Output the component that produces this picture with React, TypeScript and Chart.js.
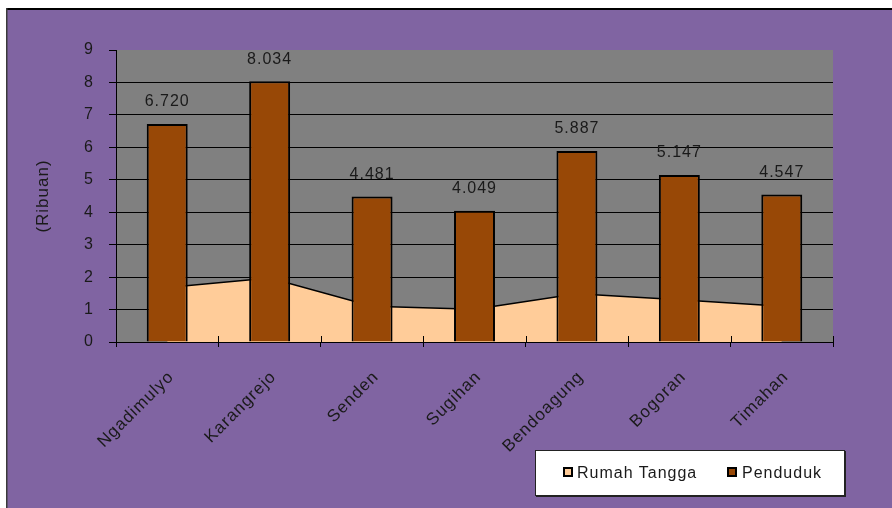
import React, { useEffect, useRef } from "react";
import { Chart, registerables } from "chart.js";

Chart.register(...registerables);

const categories = ["Ngadimulyo", "Karangrejo", "Senden", "Sugihan", "Bendoagung", "Bogoran", "Timahan"];
const penduduk = [6.72, 8.034, 4.481, 4.049, 5.887, 5.147, 4.547];
const pendudukLabels = ["6.720", "8.034", "4.481", "4.049", "5.887", "5.147", "4.547"];
const rumahTangga = [1.68, 1.97, 1.1, 1.01, 1.49, 1.3, 1.1];
const seriesNames = ["Rumah Tangga", "Penduduk"];
const yAxisTitle = "(Ribuan)";
const yMin = 0;
const yMax = 9;

const FONT = "'Liberation Sans', Arial, sans-serif";
const PURPLE = "#8064A2";
const PLOT_BG = "#808080";
const BAR = "#984806";
const AREA = "#FFCC99";
const TEXT = "#1a1a1a";

const setSpacing = (ctx: any) => {
  try {
    ctx.letterSpacing = "1px";
  } catch (e) {}
};

const backgroundPlugin = {
  id: "bgPlugin",
  beforeLayout(chart: any) {
    setSpacing(chart.ctx);
  },
  beforeDraw(chart: any) {
    const { ctx, width, height, chartArea } = chart;
    setSpacing(ctx);
    ctx.save();
    ctx.fillStyle = "#ffffff";
    ctx.fillRect(0, 0, width, height);
    ctx.fillStyle = PURPLE;
    ctx.fillRect(7, 10, width - 7, height - 10);
    ctx.fillStyle = "#000000";
    ctx.fillRect(6, 8, width - 6, 2);
    ctx.fillStyle = "#3a3a3a";
    ctx.fillRect(6, 8, 1.5, height - 8);
    ctx.fillStyle = PLOT_BG;
    ctx.fillRect(chartArea.left, chartArea.top, chartArea.right - chartArea.left, chartArea.bottom - chartArea.top);
    ctx.restore();
  },
};

const overlayPlugin = {
  id: "overlayPlugin",
  afterDatasetsDraw(chart: any) {
    const { ctx, chartArea } = chart;
    const xScale = chart.scales.x;
    ctx.save();
    ctx.strokeStyle = "#000";
    ctx.lineWidth = 1;
    const n = categories.length;
    const half = (xScale.getPixelForValue(1) - xScale.getPixelForValue(0)) / 2;
    for (let i = 0; i <= n; i++) {
      const x = Math.round(xScale.getPixelForValue(i) - half) + 0.5;
      ctx.beginPath();
      ctx.moveTo(x, chartArea.bottom - 6);
      ctx.lineTo(x, chartArea.bottom);
      ctx.stroke();
    }
    const meta = chart.getDatasetMeta(1);
    ctx.fillStyle = TEXT;
    ctx.font = `16px ${FONT}`;
    ctx.textAlign = "center";
    ctx.textBaseline = "bottom";
    setSpacing(ctx);
    meta.data.forEach((el: any, i: number) => {
      ctx.fillText(pendudukLabels[i], el.x, el.y - 14);
    });
    ctx.restore();
  },
};

export default function App() {
  const ref = useRef<HTMLCanvasElement>(null);
  useEffect(() => {
    if (!ref.current) return;
    const chart = new Chart(ref.current, {
      type: "bar",
      data: {
        labels: categories,
        datasets: [
          {
            type: "line",
            label: seriesNames[0],
            data: rumahTangga,
            fill: "origin",
            backgroundColor: AREA,
            borderColor: "#000",
            borderWidth: 1.5,
            pointRadius: 0,
            tension: 0,
            order: 2,
          } as any,
          {
            type: "bar",
            label: seriesNames[1],
            data: penduduk,
            backgroundColor: BAR,
            borderColor: "#000",
            borderWidth: 2,
            barPercentage: 0.4,
            categoryPercentage: 1,
            order: 1,
          },
        ],
      },
      options: {
        responsive: false,
        animation: false,
        devicePixelRatio: 1,
        layout: { padding: { left: 0, top: 50, right: 59, bottom: 0 } },
        plugins: {
          legend: { display: false },
          tooltip: { enabled: false },
        },
        scales: {
          x: {
            offset: true,
            grid: {
              offset: true,
              drawOnChartArea: false,
              drawTicks: true,
              tickLength: 5,
              color: "#000",
              tickColor: "#000",
            },
            border: { color: "#000", width: 1 },
            ticks: {
              maxRotation: 45,
              minRotation: 45,
              padding: 20,
              labelOffset: 4,
              color: TEXT,
              font: { family: FONT, size: 17 },
            },
            afterFit(scale: any) {
              scale.height = 166;
            },
          },
          y: {
            min: yMin,
            max: yMax,
            ticks: {
              stepSize: 1,
              padding: 15,
              color: TEXT,
              font: { family: FONT, size: 16 },
            },
            grid: {
              color: (c: any) => (c.tick && c.tick.value === yMax ? "rgba(0,0,0,0)" : "#000"),
              tickColor: "#000",
              tickLength: 7,
              lineWidth: 1,
            },
            border: { color: "#000", width: 1 },
            title: {
              display: true,
              text: yAxisTitle,
              color: TEXT,
              font: { family: FONT, size: 17 },
              padding: { top: 33, bottom: 0 },
            },
            afterFit(scale: any) {
              scale.width = 116;
            },
          },
        },
      },
      plugins: [backgroundPlugin, overlayPlugin],
    });
    return () => chart.destroy();
  }, []);

  const legendText: React.CSSProperties = {
    position: "absolute",
    fontFamily: FONT,
    fontSize: 16,
    letterSpacing: "1px",
    color: TEXT,
    lineHeight: "18px",
    whiteSpace: "nowrap",
  };
  const marker = (bg: string): React.CSSProperties => ({
    position: "absolute",
    width: 6,
    height: 6,
    background: bg,
    border: "2px solid #000",
  });

  return (
    <div style={{ position: "absolute", left: 0, top: 0, width: 892, height: 508, overflow: "hidden" }}>
      <canvas ref={ref} width={892} height={508} style={{ display: "block", width: 892, height: 508 }} />
      <div
        style={{
          position: "absolute",
          left: 535,
          top: 450,
          width: 308,
          height: 44,
          background: "#fff",
          border: "1px solid #222",
          boxShadow: "1px 1px 0 #222",
        }}
      >
        <div style={{ ...marker(AREA), left: 27, top: 16 }} />
        <div style={{ ...legendText, left: 41, top: 13 }}>{seriesNames[0]}</div>
        <div style={{ ...marker(BAR), left: 191, top: 16 }} />
        <div style={{ ...legendText, left: 206, top: 13 }}>{seriesNames[1]}</div>
      </div>
    </div>
  );
}
